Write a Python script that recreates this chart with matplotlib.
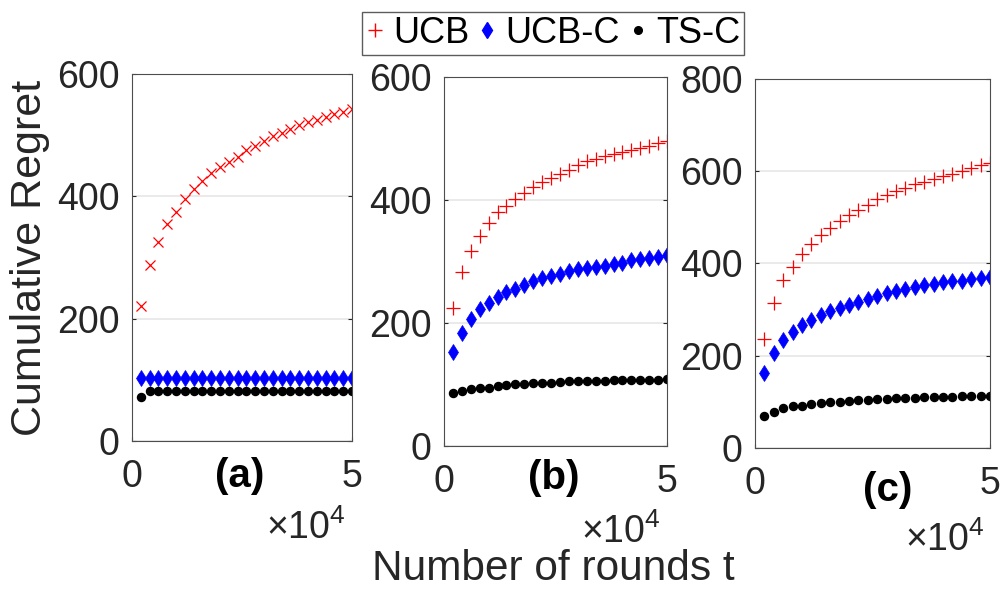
import numpy as np
import matplotlib
matplotlib.use("Agg")
import matplotlib.pyplot as plt
from matplotlib.lines import Line2D

plt.rcParams['font.family'] = ['Liberation Sans', 'DejaVu Sans']
plt.rcParams['mathtext.fontset'] = 'custom'
plt.rcParams['mathtext.rm'] = 'Liberation Sans'

# rounds, in units of 1e4
rounds = [0.2, 0.4, 0.6, 0.8, 1.0, 1.2, 1.4, 1.6, 1.8, 2.0, 2.2, 2.4, 2.6,
          2.8, 3.0, 3.2, 3.4, 3.6, 3.8, 4.0, 4.2, 4.4, 4.6, 4.8, 5.0]

# panel (a)
ucb_a = [221, 287, 325, 354, 375, 396, 412, 425, 438, 448, 456, 465, 476,
         483, 491, 498, 504, 510, 517, 522, 525, 529, 534, 538, 543]
ucbc_a = [103] * 25
tsc_a = [72] + [82] * 24

# panel (b)
ucb_b = [224, 283, 317, 342, 362, 380, 391, 402, 412, 421, 429, 436, 443,
         449, 457, 463, 467, 471, 474, 478, 482, 485, 487, 492, 496]
ucbc_b = [153, 184, 207, 222, 233, 243, 250, 256, 262, 268, 273, 277, 279,
          284, 288, 289, 291, 293, 296, 298, 302, 304, 306, 308, 311]
tsc_b = [86, 90, 93, 94, 95, 97, 99, 100, 101, 102, 103, 103, 104,
         105, 105, 105, 106, 106, 107, 107, 107, 108, 108, 108, 109]

# panel (c)
ucb_c = [237, 314, 365, 392, 420, 442, 461, 478, 493, 505, 515, 527, 539,
         549, 557, 564, 572, 577, 583, 589, 593, 600, 606, 613, 618]
ucbc_c = [162, 206, 234, 252, 267, 277, 288, 296, 303, 311, 316, 324, 330,
          335, 341, 345, 349, 353, 356, 360, 361, 363, 366, 368, 371]
tsc_c = [70, 79, 86, 90, 92, 95, 97, 99, 100, 102, 103, 105, 106,
         107, 108, 108, 109, 110, 111, 111, 111, 112, 113, 113, 113]

panels = [
    ([0.1317, 0.2513, 0.2196, 0.6231], ucb_a, ucbc_a, tsc_a, 'x', 600, [0, 200, 400, 600]),
    ([0.4431, 0.2428, 0.2226, 0.6265], ucb_b, ucbc_b, tsc_b, '+', 600, [0, 200, 400, 600]),
    ([0.7535, 0.2394, 0.2345, 0.6265], ucb_c, ucbc_c, tsc_c, '+', 800, [0, 200, 400, 600, 800]),
]

fig = plt.figure(figsize=(10.02, 5.89), dpi=100)

tick_col = '#262626'
for rect, u, uc, ts, ucb_marker, ymax, yt in panels:
    ax = fig.add_axes(rect)
    ax.plot(rounds, u, linestyle='none', marker=ucb_marker, color='red',
            markersize=9.5 if ucb_marker == '+' else 7, markeredgewidth=0.9)
    ax.plot(rounds, uc, linestyle='none', marker='d', color='blue',
            markersize=8.5, markeredgewidth=0.5)
    ax.plot(rounds, ts, linestyle='none', marker='o', color='black',
            markersize=5.8)
    ax.set_xlim(0, 5)
    ax.set_ylim(0, ymax)
    ax.set_xticks([0, 5])
    ax.set_yticks(yt)
    ax.grid(axis='y', color='#e6e6e6', linewidth=1.2)
    ax.set_axisbelow(True)
    ax.tick_params(direction='in', length=3, labelsize=27, colors=tick_col,
                   labelcolor=tick_col, right=True)
    ax.tick_params(axis='y', pad=9)
    ax.tick_params(axis='x', pad=13)
    for s in ax.spines.values():
        s.set_color('#4d4d4d')
        s.set_linewidth(0.8)

# panel tags
fig.text(0.2395, 0.192, '(a)', fontsize=29, fontweight='bold', ha='center', va='center')
fig.text(0.553, 0.188, '(b)', fontsize=29, fontweight='bold', ha='center', va='center')
fig.text(0.886, 0.168, '(c)', fontsize=29, fontweight='bold', ha='center', va='center')

# x multipliers
for x, y in [(0.305, 0.103), (0.62, 0.097), (0.943, 0.083)]:
    fig.text(x, y, r'$\times\mathregular{10^4}$', fontsize=27, ha='center',
             va='center', color=tick_col)

fig.text(0.552, 0.034, 'Number of rounds t', fontsize=30.5, ha='center',
         va='center', color=tick_col)
fig.text(0.03, 0.562, 'Cumulative Regret', fontsize=31, rotation=90,
         ha='center', va='center', color=tick_col)

handles = [
    Line2D([], [], linestyle='none', marker='+', color='red', markersize=10),
    Line2D([], [], linestyle='none', marker='d', color='blue', markersize=8),
    Line2D([], [], linestyle='none', marker='o', color='black', markersize=5.5),
]
leg = fig.legend(handles, ['UCB', 'UCB-C', 'TS-C'], ncol=3, loc='center',
                 bbox_to_anchor=(0.552, 0.943), fontsize=26, frameon=True,
                 fancybox=False, edgecolor='#333333', handlelength=0.5,
                 handletextpad=0.25, columnspacing=0.25, borderpad=0.1,
                 borderaxespad=0)
leg.get_frame().set_linewidth(1.0)

fig.savefig('out.png', dpi=100)
